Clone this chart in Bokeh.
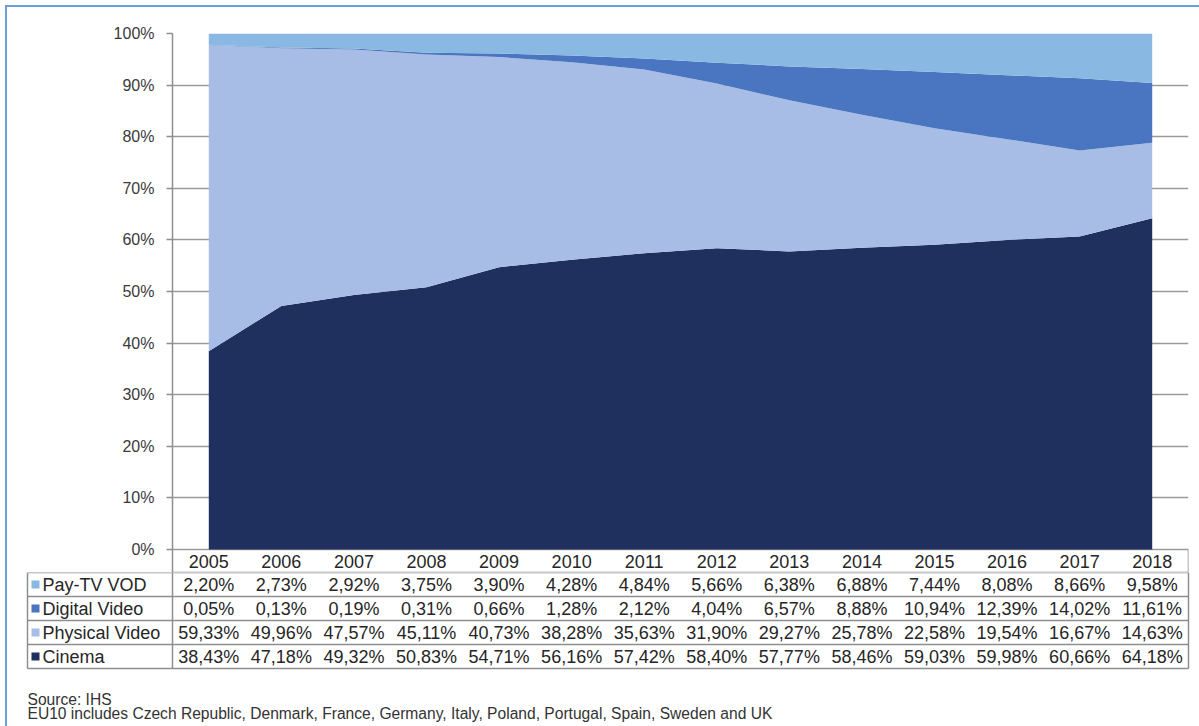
from bokeh.plotting import figure
from bokeh.models import Range1d, FixedTicker, PrintfTickFormatter, ColumnDataSource
from bokeh.layouts import column
from bokeh.embed import file_html
from bokeh.resources import INLINE
from bokeh.core.properties import value

# ---------------- data ----------------
years = ["2005", "2006", "2007", "2008", "2009", "2010", "2011",
         "2012", "2013", "2014", "2015", "2016", "2017", "2018"]
pay_tv_vod = [2.20, 2.73, 2.92, 3.75, 3.90, 4.28, 4.84, 5.66, 6.38, 6.88, 7.44, 8.08, 8.66, 9.58]
digital_video = [0.05, 0.13, 0.19, 0.31, 0.66, 1.28, 2.12, 4.04, 6.57, 8.88, 10.94, 12.39, 14.02, 11.61]
physical_video = [59.33, 49.96, 47.57, 45.11, 40.73, 38.28, 35.63, 31.90, 29.27, 25.78, 22.58, 19.54, 16.67, 14.63]
cinema = [38.43, 47.18, 49.32, 50.83, 54.71, 56.16, 57.42, 58.40, 57.77, 58.46, 59.03, 59.98, 60.66, 64.18]
series_names = ["Pay-TV VOD", "Digital Video", "Physical Video", "Cinema"]
y_ticks = [0, 10, 20, 30, 40, 50, 60, 70, 80, 90, 100]
source_note = "Source: IHS"
eu_note = "EU10 includes Czech Republic, Denmark, France, Germany, Italy, Poland, Portugal, Spain, Sweden and UK"

# ---------------- styles ----------------
COLORS = {"Pay-TV VOD": "#89b9e2", "Digital Video": "#4a75c0",
          "Physical Video": "#a7bde5", "Cinema": "#1f2f5e"}
FONT = "Liberation Sans"
TXT = "#262626"
LINE = "#8e8e8e"

W = 1192            # figure width (page 1199 minus 7px margin/border)
FRAME_L = 165       # frame left inside figure
FRAME_R = 1181      # frame right inside figure
N = len(years)
U = (FRAME_R - FRAME_L) / N   # pixels per category
PLOT_H = 516        # pixel height of 0..100 %
HEAD_H = 23         # header row height (years)
TOP = 26
H_A = TOP + PLOT_H + HEAD_H
H_B = 726 - 7 - H_A
RH = 24             # table row height

# ---------------- chart (stacked 100% area) ----------------
xs = list(range(N))
tot = [a + b + c + d for a, b, c, d in zip(pay_tv_vod, digital_video, physical_video, cinema)]
src = ColumnDataSource(dict(
    x=xs,
    cinema=[v / t * 100 for v, t in zip(cinema, tot)],
    physical=[v / t * 100 for v, t in zip(physical_video, tot)],
    digital=[v / t * 100 for v, t in zip(digital_video, tot)],
    paytv=[v / t * 100 for v, t in zip(pay_tv_vod, tot)],
))

ppu = PLOT_H / 100.0
y_head = -HEAD_H / ppu
pA = figure(width=W, height=H_A, x_range=Range1d(-0.5, N - 0.5), y_range=Range1d(y_head, 100),
            x_axis_location=None, toolbar_location=None, output_backend="svg",
            min_border_left=FRAME_L, min_border_right=W - FRAME_R,
            min_border_top=TOP, min_border_bottom=0)
pA.frame_align = False
pA.outline_line_color = None
pA.background_fill_color = "white"
pA.border_fill_color = "white"
pA.xgrid.visible = False
pA.ygrid.ticker = FixedTicker(ticks=y_ticks)
pA.ygrid.grid_line_color = "#9a9a9a"
pA.ygrid.grid_line_width = 1.3

pA.varea_stack(["cinema", "physical", "digital", "paytv"], x="x", source=src,
               color=[COLORS["Cinema"], COLORS["Physical Video"],
                      COLORS["Digital Video"], COLORS["Pay-TV VOD"]])

ax = pA.yaxis[0]
ax.ticker = FixedTicker(ticks=y_ticks)
ax.formatter = PrintfTickFormatter(format="%d%%")
ax.axis_line_color = LINE
ax.axis_line_width = 1.5
ax.major_tick_line_color = LINE
ax.major_tick_line_width = 1.5
ax.major_tick_out = 6
ax.major_tick_in = 0
ax.minor_tick_line_color = None
ax.major_label_text_font = FONT
ax.major_label_text_font_size = "16px"
ax.major_label_text_color = "#3a3a3a"
ax.major_label_standoff = 12

# header row (years) + its borders
pA.text(x=xs, y=[y_head / 2] * N, text=years, text_align="center", text_baseline="middle",
        text_font=value(FONT), text_font_size="18px", text_color=TXT)
pA.segment(x0=[N - 0.5, -0.5], y0=[y_head, y_head], x1=[N - 0.5, N - 0.5], y1=[0, y_head],
           line_color=LINE, line_width=1.5)

# ---------------- data table ----------------
x0 = -0.5 - FRAME_L / U
x1 = -0.5 + (W - FRAME_L) / U
label_left = -0.5 - 145 / U
pB = figure(width=W, height=H_B, x_range=Range1d(x0, x1), y_range=Range1d(H_B / RH, 0),
            x_axis_location=None, y_axis_location=None, toolbar_location=None,
            output_backend="svg", min_border=0)
pB.frame_align = False
pB.outline_line_color = None
pB.grid.visible = False
pB.background_fill_color = "white"
pB.border_fill_color = "white"

n_rows = len(series_names)
hy = list(range(0, n_rows + 1))
pB.segment(x0=[label_left] * len(hy), y0=hy, x1=[N - 0.5] * len(hy), y1=hy,
           line_color=LINE, line_width=1.5)
pB.segment(x0=[-0.5, N - 0.5, label_left], y0=[0, 0, 0],
           x1=[-0.5, N - 0.5, label_left], y1=[n_rows] * 3, line_color=LINE, line_width=1.5)

rows = [pay_tv_vod, digital_video, physical_video, cinema]
tx, ty, tt = [], [], []
for r, vals in enumerate(rows):
    for i, v in enumerate(vals):
        tx.append(i)
        ty.append(r + 0.5)
        tt.append(f"{v:.2f}".replace(".", ",") + "%")
pB.text(x=tx, y=ty, text=tt, text_align="center", text_baseline="middle",
        text_font=value(FONT), text_font_size="18px", text_color=TXT)

ry = [r + 0.5 for r in range(n_rows)]
pB.scatter(x=[label_left + 8 / U] * n_rows, y=ry, marker="square", size=8,
           color=[COLORS[s] for s in series_names], line_color=None)
pB.text(x=[label_left + 15 / U] * n_rows, y=ry, text=series_names, text_align="left",
        text_baseline="middle", text_font=value(FONT), text_font_size="18px", text_color=TXT)

# footnotes
pB.text(x=[label_left, label_left], y=[127 / RH, 141 / RH], text=[source_note, eu_note],
        text_align="left", text_baseline="middle", text_font=value(FONT),
        text_font_size="15.6px", text_color="#333333")

layout = column(pA, pB, spacing=0,
                styles={"margin-left": "5px", "margin-top": "5px",
                        "border-left": "2px solid #6b9fd6", "border-top": "2px solid #6b9fd6"})

open("out.html", "w").write(file_html(layout, INLINE))
